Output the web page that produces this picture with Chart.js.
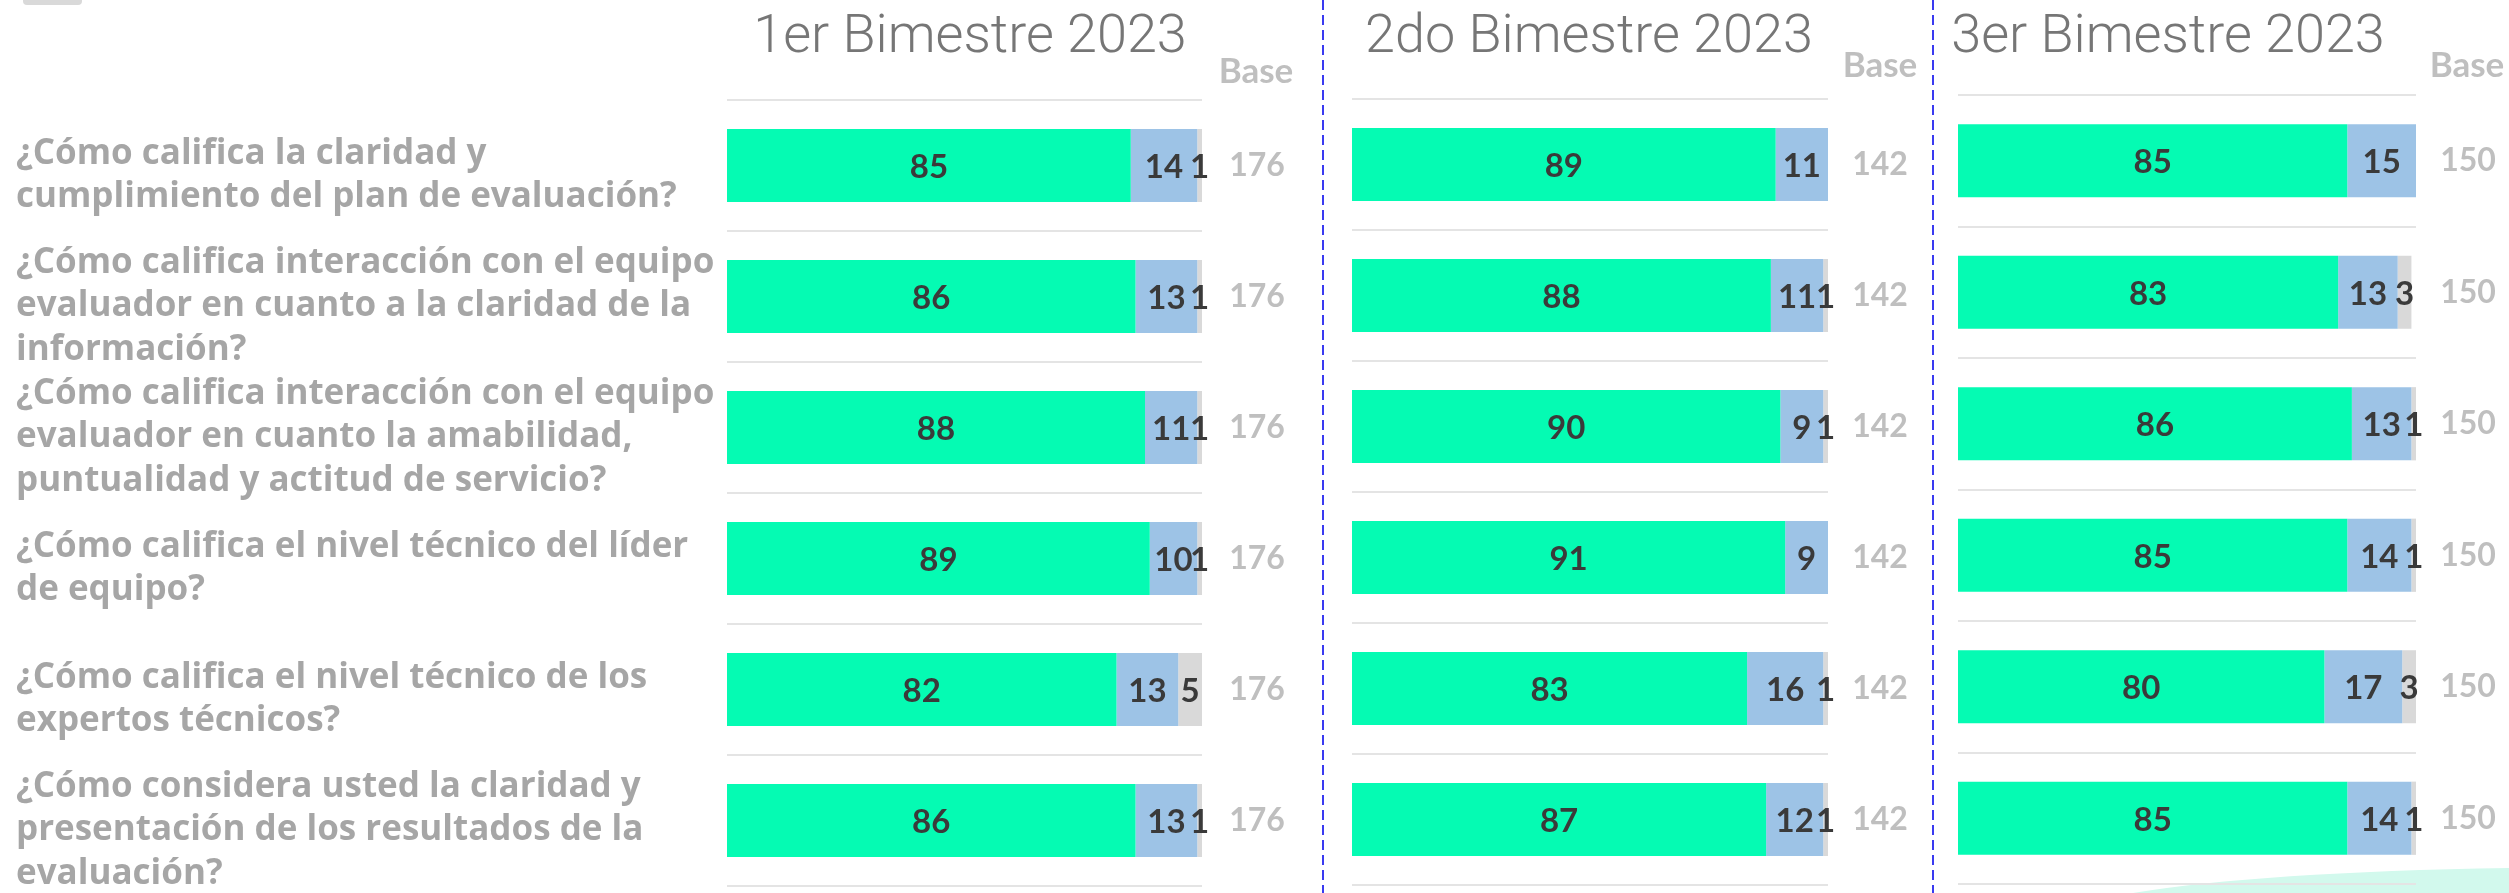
<!DOCTYPE html>
<html lang="es">
<head>
<meta charset="utf-8">
<title>Evaluación por bimestre 2023</title>
<script src="https://cdn.jsdelivr.net/npm/chart.js@4.4.0/dist/chart.umd.min.js"></script>
<style>
  html, body { margin: 0; padding: 0; background: #fff; overflow: hidden; }
  #wrap { position: relative; width: 2509px; height: 893px; }
  #wrap canvas { position: absolute; left: 0; top: 0; }
  .title { position: absolute; top: 7px; font-family: Roboto, 'Open Sans', sans-serif; font-weight: 300;
           font-size: 54px; line-height: 1; color: #767676; transform: translateX(-50%); white-space: nowrap; }
  .base { position: absolute; font-family: Lato, sans-serif; font-weight: 700; font-size: 35px;
          line-height: 1; color: #bfbfbf; transform: translateX(-50%); }
</style>
</head>
<body>
<div id="wrap">
  <canvas id="p1" width="2509" height="893"></canvas>
  <canvas id="p2" width="2509" height="893"></canvas>
  <canvas id="p3" width="2509" height="893"></canvas>
  <div class="title" style="left:970px">1er Bimestre 2023</div>
  <div class="title" style="left:1589px">2do Bimestre 2023</div>
  <div class="title" style="left:2168px">3er Bimestre 2023</div>
  <div class="base" style="left:1256px; top:52px">Base</div>
  <div class="base" style="left:1880px; top:46px">Base</div>
  <div class="base" style="left:2467px; top:46px">Base</div>
</div>
<script>
// preguntas (una fila por pregunta)
const questions = [
  ['¿Cómo califica la claridad y', 'cumplimiento del plan de evaluación?'],
  ['¿Cómo califica interacción con el equipo', 'evaluador en cuanto a la claridad de la', 'información?'],
  ['¿Cómo califica interacción con el equipo', 'evaluador en cuanto la amabilidad,', 'puntualidad y actitud de servicio?'],
  ['¿Cómo califica el nivel técnico del líder', 'de equipo?'],
  ['¿Cómo califica el nivel técnico de los', 'expertos técnicos?'],
  ['¿Cómo considera usted la claridad y', 'presentación de los resultados de la', 'evaluación?']
];

// 1er Bimestre 2023
const green1 = [85, 86, 88, 89, 82, 86];
const blue1  = [14, 13, 11, 10, 13, 13];
const gray1  = [1, 1, 1, 1, 5, 1];
const base1  = [176, 176, 176, 176, 176, 176];

// 2do Bimestre 2023
const green2 = [89, 88, 90, 91, 83, 87];
const blue2  = [11, 11, 9, 9, 16, 12];
const gray2  = [0, 1, 1, 0, 1, 1];
const base2  = [142, 142, 142, 142, 142, 142];

// 3er Bimestre 2023
const green3 = [85, 83, 86, 85, 80, 85];
const blue3  = [15, 13, 13, 14, 17, 14];
const gray3  = [0, 3, 1, 1, 3, 1];
const base3  = [150, 150, 150, 150, 150, 150];

const GREEN = '#05fbb3';
const BLUE = '#9dc3e6';
const GRAY = '#d9d9d9';

// value labels inside each segment + base count to the right
const makeLabels = (baseValues, gap) => ({
  id: 'segLabels',
  afterDatasetsDraw(chart) {
    const ctx = chart.ctx;
    ctx.save();
    ctx.textAlign = 'center';
    ctx.textBaseline = 'middle';
    ctx.font = 'bold 33px Lato, sans-serif';
    ctx.fillStyle = '#3a3a3a';
    chart.data.datasets.forEach((ds, i) => {
      chart.getDatasetMeta(i).data.forEach((bar, j) => {
        if (!ds.data[j]) return;
        ctx.fillText(String(ds.data[j]), (bar.x + bar.base) / 2, bar.y + 2);
      });
    });
    ctx.font = 'bold 32px Lato, sans-serif';
    ctx.fillStyle = '#bfbfbf';
    const y = chart.scales.y;
    baseValues.forEach((n, j) => {
      ctx.fillText(String(n), chart.chartArea.right + gap, y.getPixelForValue(j));
    });
    ctx.restore();
  }
});

// separators and page decorations
const decor = {
  id: 'decor',
  beforeDraw(chart) {
    const ctx = chart.ctx;
    ctx.save();
    // mint wedge bottom right
    ctx.fillStyle = '#d2f9ed';
    ctx.beginPath();
    ctx.moveTo(2133, 893);
    ctx.quadraticCurveTo(2260, 872, 2509, 868);
    ctx.lineTo(2509, 893);
    ctx.closePath();
    ctx.fill();
    // cut legend swatch top left
    ctx.fillStyle = '#d9d9d9';
    ctx.beginPath();
    ctx.roundRect(23, -12, 59, 17, 4);
    ctx.fill();
    // dashed separators
    ctx.strokeStyle = '#3a3af0';
    ctx.lineWidth = 2;
    ctx.setLineDash([10, 5]);
    [1323, 1933].forEach(x => {
      ctx.beginPath();
      ctx.moveTo(x, 0);
      ctx.lineTo(x, 893);
      ctx.stroke();
    });
    ctx.restore();
  }
};

const makePanel = (id, green, blue, gray, base, pad, showLabels, gap, extra) => {
  const ds = (label, data, color) => ({
    label, data, backgroundColor: color, borderWidth: 0,
    barPercentage: 0.557, categoryPercentage: 1
  });
  return new Chart(document.getElementById(id), {
    type: 'bar',
    data: {
      labels: questions,
      datasets: [
        ds('Bueno', green, GREEN),
        ds('Regular', blue, BLUE),
        ds('Malo', gray, GRAY)
      ]
    },
    options: {
      indexAxis: 'y',
      responsive: false,
      animation: false,
      layout: { padding: pad },
      scales: {
        x: { stacked: true, min: 0, max: 100, display: false },
        y: {
          stacked: true,
          border: { display: false },
          grid: { color: '#e4e4e4', lineWidth: 2, drawTicks: false },
          ticks: {
            display: showLabels,
            autoSkip: false,
            crossAlign: 'far',
            padding: 0,
            labelOffset: 10,
            color: '#a6a6a6',
            font: { family: "'Open Sans', sans-serif", weight: 700, size: 35, lineHeight: 1.25 }
          },
          afterFit: (scale) => {
            scale.width = showLabels ? 711 : 0;
            scale.paddingTop = 0;
            scale.paddingBottom = 0;
          }
        }
      },
      plugins: { legend: { display: false }, tooltip: { enabled: false } }
    },
    plugins: [makeLabels(base, gap)].concat(extra ? [extra] : [])
  });
};

makePanel('p1', green1, blue1, gray1, base1, { left: 16, right: 1307, top: 100, bottom: 7 }, true, 55, decor);
makePanel('p2', green2, blue2, gray2, base2, { left: 1352, right: 681, top: 99, bottom: 8 }, false, 52);
makePanel('p3', green3, blue3, gray3, base3, { left: 1958, right: 93, top: 95, bottom: 9 }, false, 52);
</script>
</body>
</html>
